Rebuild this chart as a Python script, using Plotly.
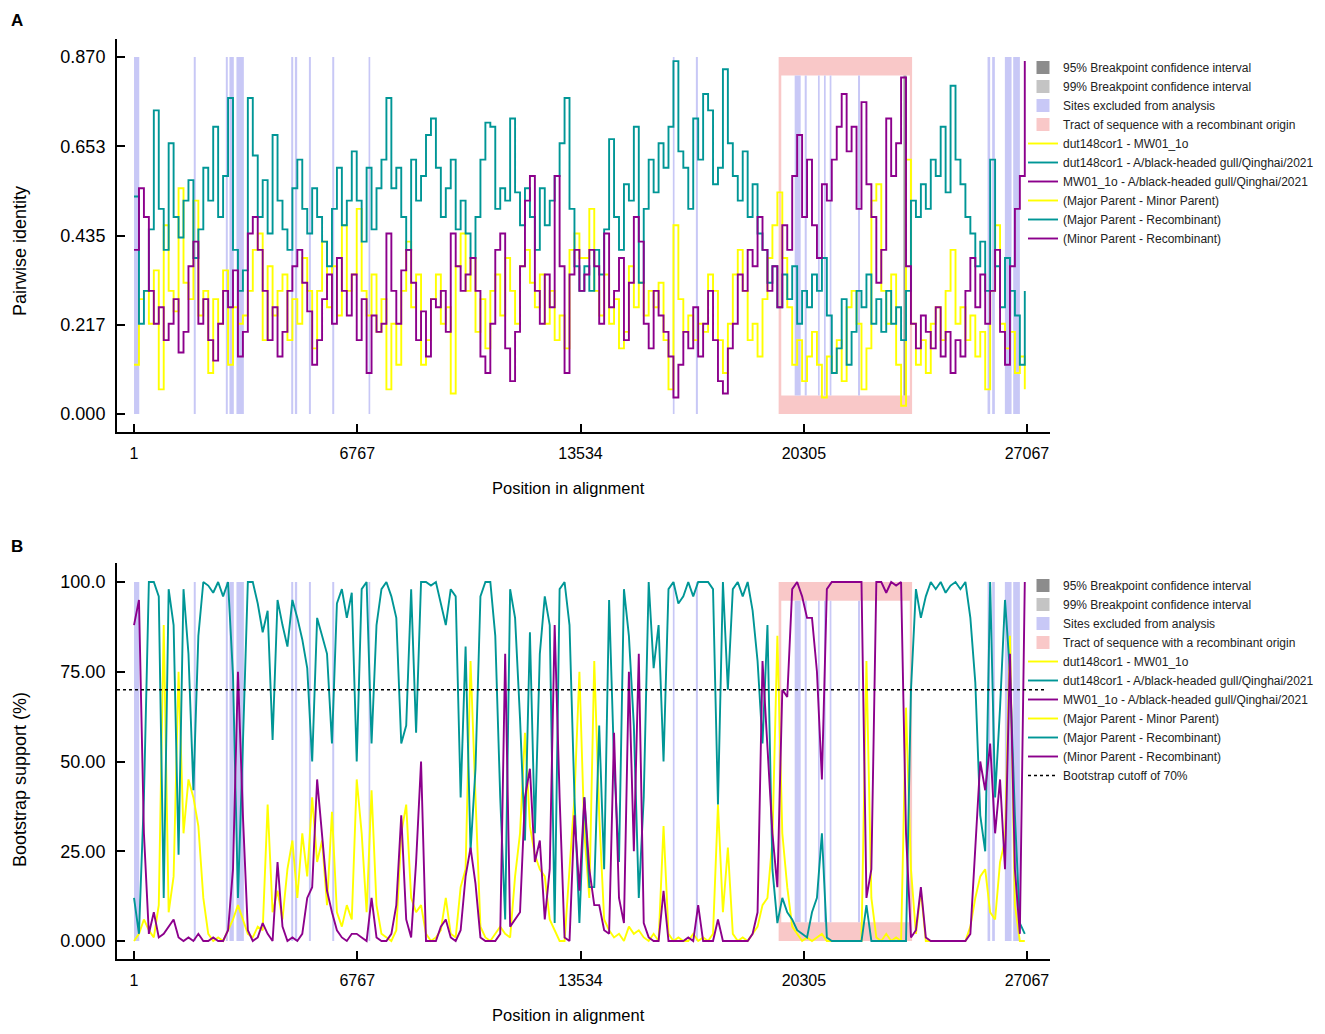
import plotly.graph_objects as go

W, H = 1325, 1034
PAGE_OFF = 8  # default body margin of the html page
STEP = 150  # nt between plotted window positions

# ---- panel A: pairwise identity ----
ident_yellow = [
    0.12, 0.28, 0.30, 0.22, 0.35, 0.06, 0.46, 0.30, 0.25, 0.55, 0.32, 0.28, 0.52, 0.24, 0.30, 0.10, 0.28, 0.22, 0.35, 0.12,
    0.26, 0.22, 0.24, 0.30, 0.40, 0.44, 0.18, 0.36, 0.24, 0.30, 0.34, 0.18, 0.28, 0.22, 0.38, 0.30, 0.16, 0.30, 0.42, 0.26,
    0.36, 0.24, 0.46, 0.30, 0.34,
    0.50, 0.30, 0.24, 0.34, 0.20, 0.28, 0.06, 0.22, 0.12, 0.30, 0.42, 0.26, 0.34, 0.12, 0.18, 0.28, 0.34, 0.22, 0.26, 0.05,
    0.36, 0.44, 0.30, 0.38, 0.20, 0.28, 0.16, 0.30, 0.34, 0.24, 0.38, 0.30, 0.22, 0.36, 0.40, 0.32, 0.26, 0.34, 0.22, 0.30,
    0.18, 0.24, 0.16, 0.40, 0.44, 0.38,
    0.38, 0.50, 0.30, 0.24, 0.34, 0.22, 0.28, 0.16, 0.20, 0.36, 0.26, 0.32, 0.24, 0.30, 0.26, 0.32, 0.18, 0.06, 0.46, 0.28,
    0.20, 0.24, 0.18, 0.22, 0.20, 0.34, 0.30, 0.18, 0.10, 0.22, 0.34, 0.40, 0.30, 0.18, 0.22, 0.14, 0.28, 0.38, 0.46, 0.54,
    0.38, 0.26, 0.12, 0.18, 0.08, 0.14,
    0.20, 0.12, 0.04, 0.14, 0.10, 0.18, 0.08, 0.26, 0.30, 0.22, 0.06, 0.16, 0.52, 0.56, 0.30, 0.22, 0.34, 0.12, 0.02, 0.62,
    0.22, 0.12, 0.18, 0.10, 0.22, 0.26, 0.18, 0.30, 0.40, 0.22, 0.26, 0.18, 0.24, 0.14, 0.20, 0.06, 0.30, 0.46, 0.22, 0.16,
    0.20, 0.10, 0.14, 0.06,
]
ident_teal = [
    0.53, 0.22, 0.30, 0.45, 0.74, 0.50, 0.40, 0.66, 0.48, 0.43, 0.52, 0.57, 0.38, 0.45, 0.60, 0.52, 0.70, 0.48, 0.58, 0.77,
    0.40, 0.30, 0.35, 0.77, 0.63, 0.48, 0.57, 0.44, 0.68, 0.52, 0.45, 0.40, 0.55, 0.62, 0.50, 0.44, 0.55, 0.48, 0.42, 0.36,
    0.50, 0.60, 0.46, 0.52, 0.64,
    0.52, 0.42, 0.60, 0.45, 0.55, 0.62, 0.77, 0.55, 0.60, 0.48, 0.40, 0.62, 0.52, 0.58, 0.68, 0.72, 0.60, 0.48, 0.55, 0.62,
    0.45, 0.52, 0.44, 0.38, 0.48, 0.62, 0.71, 0.70, 0.50, 0.55, 0.52, 0.72, 0.54, 0.46, 0.55, 0.48, 0.40, 0.55, 0.46, 0.52,
    0.58, 0.66, 0.77, 0.50, 0.36, 0.30,
    0.36, 0.30, 0.40, 0.34, 0.45, 0.67, 0.48, 0.40, 0.56, 0.52, 0.70, 0.32, 0.50, 0.62, 0.54, 0.66, 0.60, 0.70, 0.86, 0.64,
    0.60, 0.50, 0.72, 0.62, 0.78, 0.74, 0.56, 0.60, 0.84, 0.66, 0.58, 0.52, 0.64, 0.48, 0.56, 0.44, 0.40, 0.32, 0.36, 0.26,
    0.34, 0.28, 0.36, 0.22, 0.30, 0.26,
    0.34, 0.30, 0.38, 0.24, 0.10, 0.16, 0.28, 0.12, 0.20, 0.30, 0.26, 0.34, 0.22, 0.28, 0.20, 0.30, 0.22, 0.26, 0.18, 0.30,
    0.52, 0.48, 0.56, 0.50, 0.62, 0.58, 0.70, 0.54, 0.80, 0.62, 0.56, 0.48, 0.44, 0.36, 0.42, 0.30, 0.62, 0.36, 0.26, 0.38,
    0.30, 0.24, 0.12, 0.30,
]
ident_purple = [
    0.40, 0.55, 0.48, 0.30, 0.22, 0.26, 0.18, 0.22, 0.28, 0.15, 0.20, 0.36, 0.42, 0.22, 0.28, 0.18, 0.13, 0.22, 0.30, 0.26,
    0.35, 0.14, 0.20, 0.44, 0.48, 0.40, 0.30, 0.18, 0.26, 0.14, 0.20, 0.30, 0.36, 0.40, 0.32, 0.25, 0.12, 0.18, 0.28, 0.34,
    0.22, 0.38, 0.30, 0.24, 0.34,
    0.18, 0.28, 0.10, 0.24, 0.20, 0.22, 0.44, 0.30, 0.22, 0.35, 0.40, 0.32, 0.18, 0.25, 0.14, 0.28, 0.26, 0.30, 0.20, 0.44,
    0.36, 0.30, 0.34, 0.38, 0.30, 0.14, 0.10, 0.22, 0.40, 0.44, 0.16, 0.08, 0.20, 0.36, 0.52, 0.58, 0.30, 0.22, 0.34, 0.26,
    0.58, 0.36, 0.10, 0.34, 0.40, 0.30,
    0.34, 0.40, 0.36, 0.22, 0.44, 0.26, 0.30, 0.38, 0.18, 0.32, 0.48, 0.42, 0.22, 0.16, 0.30, 0.24, 0.20, 0.14, 0.04, 0.12,
    0.20, 0.16, 0.26, 0.14, 0.22, 0.30, 0.18, 0.08, 0.05, 0.16, 0.22, 0.34, 0.30, 0.40, 0.36, 0.48, 0.40, 0.30, 0.36, 0.26,
    0.46, 0.40, 0.58, 0.68, 0.48, 0.62,
    0.46, 0.38, 0.56, 0.52, 0.62, 0.70, 0.78, 0.64, 0.70, 0.50, 0.76, 0.56, 0.48, 0.32, 0.40, 0.72, 0.58, 0.66, 0.82, 0.36,
    0.22, 0.16, 0.24, 0.20, 0.16, 0.26, 0.14, 0.20, 0.10, 0.18, 0.14, 0.30, 0.38, 0.26, 0.34, 0.22, 0.30, 0.40, 0.20, 0.12,
    0.36, 0.50, 0.58, 0.86,
]

# ---- panel B: bootstrap support (%) ----
boot_yellow = [
    0, 2, 6, 3, 1, 10, 88, 8, 18, 75, 30, 45, 40, 32, 12, 2, 0, 1, 0, 3,
    6, 10, 6, 2, 1, 4, 3, 38, 8, 14, 6, 20, 28, 12, 30, 18, 40, 22, 28, 10,
    36, 8, 4, 10, 6,
    45, 30, 8, 42, 10, 2, 1, 0, 3, 30, 38, 12, 8, 10, 2, 0, 1, 3, 12, 2,
    1, 15, 20, 78, 40, 4, 1, 0, 2, 4, 2, 1, 18, 30, 58, 32, 24, 20, 18, 6,
    3, 0, 0, 20, 40, 75,
    30, 12, 78, 35, 6, 3, 1, 2, 0, 4, 2, 3, 1, 0, 2, 0, 32, 2, 0, 1,
    0, 0, 2, 0, 1, 0, 2, 38, 8, 26, 2, 0, 1, 0, 2, 4, 10, 12, 28, 85,
    30, 15, 4, 2, 0, 1,
    0, 1, 2, 0, 0, 0, 0, 0, 0, 0, 0, 78, 12, 1, 0, 2, 0, 1, 0, 65,
    20, 2, 14, 0, 0, 0, 0, 0, 0, 0, 0, 0, 4, 12, 18, 20, 8, 6, 22, 28,
    85, 10, 0, 0,
]
boot_teal = [
    12, 2, 40, 100, 100, 96, 12, 98, 88, 24, 98, 80, 42, 85, 100, 99, 97, 100, 96, 100,
    74, 12, 55, 100, 100, 94, 86, 92, 56, 95, 88, 82, 95, 90, 84, 76, 50, 90, 85, 80,
    55, 94, 98, 90, 97,
    50, 98, 100, 55, 88, 98, 100, 96, 90, 55, 60, 98, 58, 100, 100, 99, 100, 94, 88, 98,
    96, 40, 82, 25, 48, 96, 100, 100, 85, 40, 6, 98, 90, 62, 28, 86, 30, 80, 96, 88,
    5, 98, 100, 88, 40, 5,
    40, 15, 15, 60, 20, 95, 50, 22, 98, 85, 60, 12, 40, 100, 76, 88, 50, 98, 100, 94,
    96, 100, 96, 100, 100, 100, 98, 38, 100, 70, 98, 100, 96, 100, 92, 78, 55, 88, 20, 5,
    12, 8, 6, 3, 2, 1,
    8, 12, 30, 1, 0, 0, 0, 0, 0, 0, 0, 10, 0, 0, 0, 0, 0, 0, 0, 0,
    70, 98, 90, 96, 100, 98, 100, 97, 99, 100, 98, 100, 90, 72, 35, 25, 100, 40, 65, 95,
    75, 35, 5, 2,
]
boot_purple = [
    88, 95, 30, 2, 8, 1, 2, 4, 6, 1, 0, 1, 0, 2, 0, 0, 1, 0, 0, 3,
    20, 75, 35, 3, 0, 1, 5, 2, 0, 22, 4, 0, 1, 0, 2, 12, 15, 45, 30, 14,
    8, 3, 1, 0, 2,
    2, 1, 0, 12, 1, 0, 0, 2, 10, 35, 6, 1, 22, 50, 0, 0, 0, 4, 6, 1,
    0, 3, 18, 26, 16, 1, 0, 0, 0, 2, 80, 4, 6, 8, 40, 48, 22, 28, 6, 20,
    88, 40, 1, 0, 35, 14,
    40, 20, 10, 10, 3, 2, 58, 12, 5, 75, 25, 80, 5, 1, 0, 0, 14, 0, 0, 0,
    0, 1, 0, 10, 0, 0, 0, 6, 0, 0, 0, 0, 0, 0, 2, 8, 78, 55, 30, 15,
    70, 68, 98, 100, 96, 90,
    90, 75, 45, 98, 100, 100, 100, 100, 100, 100, 100, 12, 20, 100, 100, 97, 100, 99, 100, 30,
    1, 3, 15, 1, 0, 0, 0, 0, 0, 0, 0, 0, 2, 25, 50, 42, 55, 30, 45, 20,
    80, 20, 2, 100,
]

x_ticks = [1, 6767, 13534, 20305, 27067]
ident_ticks = [0.0, 0.2175, 0.435, 0.6525, 0.87]
ident_labels = ["0.000", "0.217", "0.435", "0.653", "0.870"]
boot_ticks = [0, 25, 50, 75, 100]
boot_labels = ["0.000", "25.00", "50.00", "75.00", "100.0"]
cutoff = 70

# alignment regions (nt)
excluded = [(1, 160), (1812, 1872), (2783, 2843), (2893, 3026), (3105, 3330), (4765, 4826),
            (4877, 4946), (5302, 5362), (6009, 6069), (7110, 7161), (16333, 16384), (17031, 17092),
            (20026, 20208), (20330, 20391), (20732, 20784), (20914, 20966), (21087, 21139),
            (21946, 22007), (25872, 25951), (26012, 26093), (26397, 26600), (26650, 26852)]
tract = (19540, 23585)
tract_inner = (19620, 23516)
ci95 = (23323, 23414)

YELLOW, TEAL, PURPLE = "#ffff00", "#009696", "#8c008c"
BLUE, PINK = "#c8c8f6", "#f9c8c8"
FONT = "Arial, Liberation Sans, sans-serif"

X_RANGE = [-515, 27765]
A_RANGE = [-0.0439, 0.9139]
B_RANGE = [-5.01, 105.29]


def px(x):
    return (x - PAGE_OFF) / W


def py(y):
    return 1 - (y - PAGE_OFF) / H


def positions(vals):
    return [1 + k * STEP for k in range(len(vals))]


fig = go.Figure()

names = ["dut148cor1 - MW01_1o", "dut148cor1 - A/black-headed gull/Qinghai/2021",
         "MW01_1o - A/black-headed gull/Qinghai/2021"]
roles = ["(Major Parent - Minor Parent)", "(Major Parent - Recombinant)", "(Minor Parent - Recombinant)"]
patches = [("95% Breakpoint confidence interval", "#8c8c8c"),
           ("99% Breakpoint confidence interval", "#c4c4c4"),
           ("Sites excluded from analysis", BLUE),
           ("Tract of sequence with a recombinant origin", PINK)]

panels = [
    ("legend", "x", "y", [ident_yellow, ident_teal, ident_purple], "hv", 1.9),
    ("legend2", "x2", "y2", [boot_yellow, boot_teal, boot_purple], "linear", 1.9),
]

for leg, xa, ya, series, shape, lw in panels:
    for name, col in patches:
        fig.add_trace(go.Scatter(x=[None], y=[None], mode="markers", name=name, legend=leg,
                                 xaxis=xa, yaxis=ya,
                                 marker=dict(symbol="square", size=13, color=col)))
    for vals, name, col in zip(series, names, [YELLOW, TEAL, PURPLE]):
        fig.add_trace(go.Scatter(x=positions(vals), y=vals, mode="lines", name=name, legend=leg,
                                 xaxis=xa, yaxis=ya, line=dict(color=col, width=lw, shape=shape)))
    for name, col in zip(roles, [YELLOW, TEAL, PURPLE]):
        fig.add_trace(go.Scatter(x=[None], y=[None], mode="lines", name=name, legend=leg,
                                 xaxis=xa, yaxis=ya, line=dict(color=col, width=lw)))

fig.add_trace(go.Scatter(x=[X_RANGE[0], 27600], y=[cutoff, cutoff], mode="lines",
                         name="Bootstrap cutoff of 70%",
                         legend="legend2", xaxis="x2", yaxis="y2",
                         line=dict(color="black", width=1.5, dash="dot")))

# background regions
shapes = []
for xa, ya, yr in [("x", "y", [0, 0.87]), ("x2", "y2", [0, 100])]:
    band = (yr[1] - yr[0]) * 0.052
    inner = [yr[0] + band, yr[1] - band]
    for a, b in excluded:
        if b < tract[0] or a > tract[1]:
            shapes.append(dict(type="rect", xref=xa, yref=ya, x0=a, x1=b, y0=yr[0], y1=yr[1],
                               fillcolor=BLUE, line_width=0, layer="below"))
    shapes.append(dict(type="rect", xref=xa, yref=ya, x0=tract[0], x1=tract[1], y0=yr[0], y1=yr[1],
                       fillcolor=PINK, line_width=0, layer="below"))
    shapes.append(dict(type="rect", xref=xa, yref=ya, x0=tract_inner[0], x1=tract_inner[1],
                       y0=inner[0], y1=inner[1], fillcolor="white", line_width=0, layer="below"))
    for a, b in excluded:
        if tract[0] <= a and b <= tract[1]:
            shapes.append(dict(type="rect", xref=xa, yref=ya, x0=a, x1=b, y0=inner[0], y1=inner[1],
                               fillcolor=BLUE, line_width=0, layer="below"))
    if xa == "x":
        shapes.append(dict(type="rect", xref=xa, yref=ya, x0=ci95[0], x1=ci95[1], y0=inner[0], y1=inner[1],
                           fillcolor="#999999", line_width=0, layer="below"))

axis_common = dict(showline=True, linecolor="black", linewidth=2, ticks="inside", ticklen=8,
                   tickwidth=1.5, tickcolor="black", showgrid=False, zeroline=False,
                   ticklabelstandoff=6)
xfont = dict(family=FONT, size=16, color="black")
yfont = dict(family=FONT, size=18, color="black")

fig.update_layout(
    width=W, height=H, margin=dict(l=0, r=0, t=0, b=0),
    paper_bgcolor="white", plot_bgcolor="white",
    font=dict(family=FONT, color="black"),
    shapes=shapes,
    xaxis=dict(domain=[px(117), px(1050)], range=X_RANGE, anchor="y", tickvals=x_ticks,
               ticktext=[str(t) for t in x_ticks], tickfont=xfont, **axis_common),
    xaxis2=dict(domain=[px(117), px(1050)], range=X_RANGE, anchor="y2", tickvals=x_ticks,
                ticktext=[str(t) for t in x_ticks], tickfont=xfont, **axis_common),
    yaxis=dict(domain=[py(432), py(39)], range=A_RANGE, anchor="x", tickvals=ident_ticks,
               ticktext=ident_labels, tickfont=yfont, **axis_common),
    yaxis2=dict(domain=[py(959), py(563)], range=B_RANGE, anchor="x2", tickvals=boot_ticks,
                ticktext=boot_labels, tickfont=yfont, **axis_common),
    legend=dict(x=px(1023), y=py(53), xanchor="left", yanchor="top", bgcolor="rgba(0,0,0,0)",
                font=dict(family=FONT, size=12, color="#222222"), tracegroupgap=0),
    legend2=dict(x=px(1023), y=py(571), xanchor="left", yanchor="top", bgcolor="rgba(0,0,0,0)",
                 font=dict(family=FONT, size=12, color="#222222"), tracegroupgap=0),
    showlegend=True,
)

notes = [
    ("<b>A</b>", 9, 9, 0, 17, "left", "top"),
    ("<b>B</b>", 9, 546, 0, 17, "left", "middle"),
    ("Pairwise identity", 20, 251, -90, 18, "center", "middle"),
    ("Bootstrap support (%)", 20, 780, -90, 18, "center", "middle"),
    ("Position in alignment", 568, 488, 0, 16.5, "center", "middle"),
    ("Position in alignment", 568, 1015, 0, 16.5, "center", "middle"),
]
for text, x, y, ang, size, xanc, yanc in notes:
    fig.add_annotation(text=text, x=px(x), y=py(y), xref="paper", yref="paper", showarrow=False,
                       textangle=ang, xanchor=xanc, yanchor=yanc,
                       font=dict(family=FONT, size=size, color="black"))

fig.write_html("out.html")
